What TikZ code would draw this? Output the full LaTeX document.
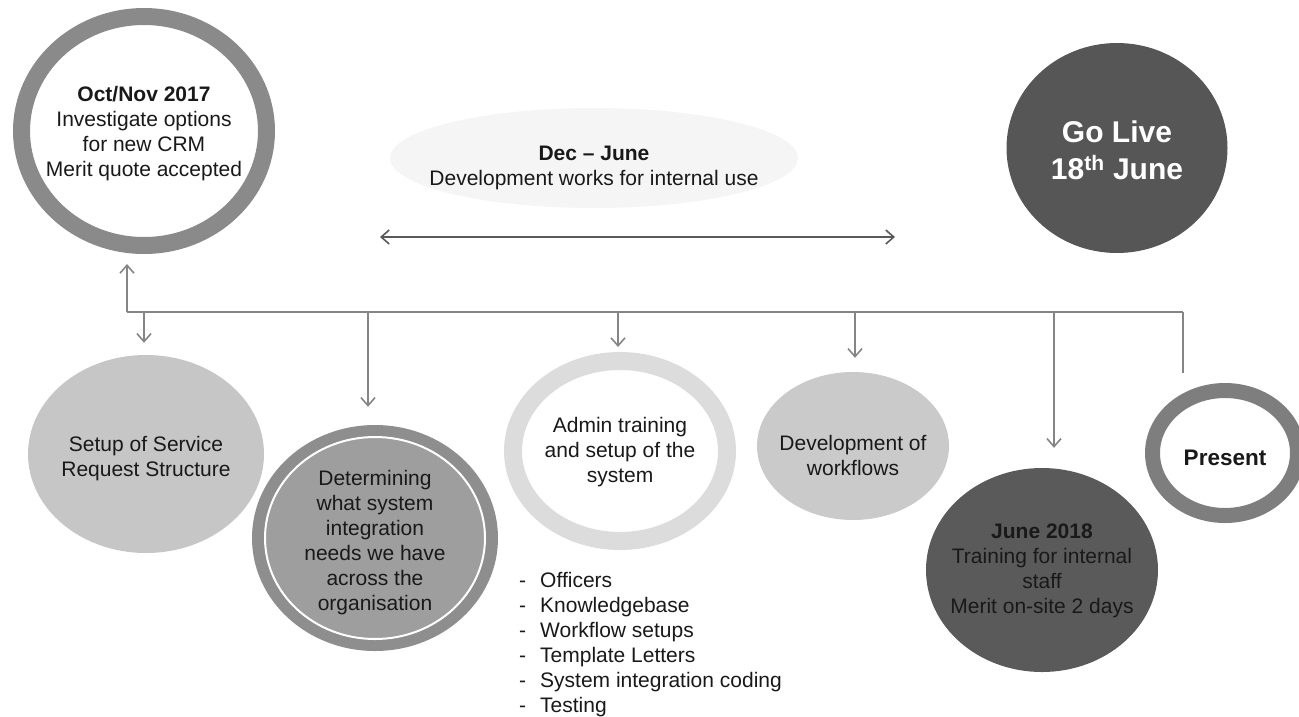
\documentclass[tikz,border=0pt]{standalone}
\usepackage{fontspec}
\setmainfont{Liberation Sans}
\usetikzlibrary{shapes.geometric, arrows.meta}

\definecolor{ringgray}{HTML}{8A8A8A}
\definecolor{setupgray}{HTML}{C6C6C6}
\definecolor{detring}{HTML}{8E8E8E}
\definecolor{detfill}{HTML}{9E9E9E}
\definecolor{adminring}{HTML}{DCDCDC}
\definecolor{devgray}{HTML}{CACACA}
\definecolor{junegray}{HTML}{5A5A5A}
\definecolor{presentring}{HTML}{7E7E7E}
\definecolor{livegray}{HTML}{565656}
\definecolor{cloudgray}{HTML}{F5F5F5}
\definecolor{linegray}{HTML}{858585}

\begin{document}
\begin{tikzpicture}[x=1pt, y=-1pt,
    every node/.style={font=\fontsize{21}{25}\selectfont, text=black!90},
    ring/.style={ellipse, draw=#1, fill=white},
    blob/.style={ellipse, fill=#1},
    txt/.style={align=center, inner sep=0pt},
    link/.style={draw=linegray, line width=1.6pt},
    tip/.style={-{Straight Barb[length=8pt, width=14pt]}}]
                \useasboundingbox (0,0) rectangle (1299,716);

                % Dec - June band
                \node[blob=cloudgray, minimum width=408pt, minimum height=100pt] (band) at (594,158) {};
                \node[txt] (bandtxt) at (594,168) {\textbf{Dec -- June}\\Development works for internal use};
                \coordinate (bandL) at (380,237);
                \coordinate (bandR) at (895,237);
                \draw[link, draw=black!65, {Straight Barb[length=8pt, width=14pt]}-{Straight Barb[length=8pt, width=14pt]}] (bandL) -- (bandR);

                % Start and go live
                \node[ring=ringgray, line width=17pt, minimum width=245pt, minimum height=229pt] (oct) at (144,131) {};
                \node[txt] (octtxt) at (144,134) {\textbf{Oct/Nov 2017}\\Investigate options\\for new CRM\\Merit quote accepted};
                \node[blob=livegray, minimum width=221pt, minimum height=210pt] (live) at (1117,148) {};
                \node[txt, text=white, font=\fontsize{30}{37}\selectfont\bfseries] (livetxt) at (1117,150) {Go Live\\18\textsuperscript{th} June};

                % Stages
                \node[blob=setupgray, minimum width=236pt, minimum height=198pt] (setup) at (146,454) {};
                \node[txt] (setuptxt) at (146,459) {Setup of Service\\Request Structure};
                \node[blob=detring, minimum width=246pt, minimum height=226pt] (det) at (375,538) {};
                \draw[white, line width=2pt, fill=detfill] (det.center) ellipse (110pt and 101pt);
                \node[txt] (dettxt) at (375,543) {Determining\\what system\\integration\\needs we have\\across the\\organisation};
                \node[ring=adminring, line width=18pt, minimum width=214pt, minimum height=180pt] (admin) at (620,451) {};
                \node[txt] (admintxt) at (620,452) {Admin training\\and setup of the\\system};
                \node[inner sep=0pt, anchor=north west] (tasks) at (519,570) {\begin{tabular}{@{}l@{\hspace{14pt}}l@{}}
                    - & Officers\\ - & Knowledgebase\\ - & Workflow setups\\ - & Template Letters\\ - & System integration coding\\ - & Testing
                \end{tabular}};
                \node[blob=devgray, minimum width=192pt, minimum height=148pt] (dev) at (853,446) {};
                \node[txt] (devtxt) at (853,455) {Development of\\workflows};
                \node[blob=junegray, minimum width=232pt, minimum height=204pt] (june) at (1042,570) {};
                \node[txt] (junetxt) at (1042,571) {\textbf{June 2018}\\Training for internal\\staff\\Merit on-site 2 days};
                \node[ring=presentring, line width=15pt, minimum width=145pt, minimum height=125pt] (present) at (1225,453) {};
                \node[txt, font=\fontsize{22.5}{27}\selectfont\bfseries] (presenttxt) at (1225,458) {Present};

                % Timeline bus
                \coordinate (bus0) at (127,312);
                \coordinate (bus1) at (1183,312);
                \coordinate (d1) at (144,312);
                \coordinate (d2) at (368,312);
                \coordinate (d3) at (618,312);
                \coordinate (d4) at (855,312);
                \coordinate (d5) at (1054,312);
                \draw[link] (bus0) -- (bus1);
                \draw[link, tip, shorten >=10pt] (bus0) -- (bus0 |- oct.south);
                \draw[link, tip, shorten >=12pt] (d1) -- (d1 |- setup.north);
                \draw[link, tip, shorten >=18pt] (d2) -- (d2 |- det.north);
                \draw[link, tip, shorten >=5pt] (d3) -- (d3 |- admin.north);
                \draw[link, tip, shorten >=14pt] (d4) -- (d4 |- dev.north);
                \draw[link, tip, shorten >=20pt] (d5) -- (d5 |- june.north);
                \draw[link, shorten >=10pt] (bus1) -- (bus1 |- present.north);
            \end{tikzpicture}
\end{document}
